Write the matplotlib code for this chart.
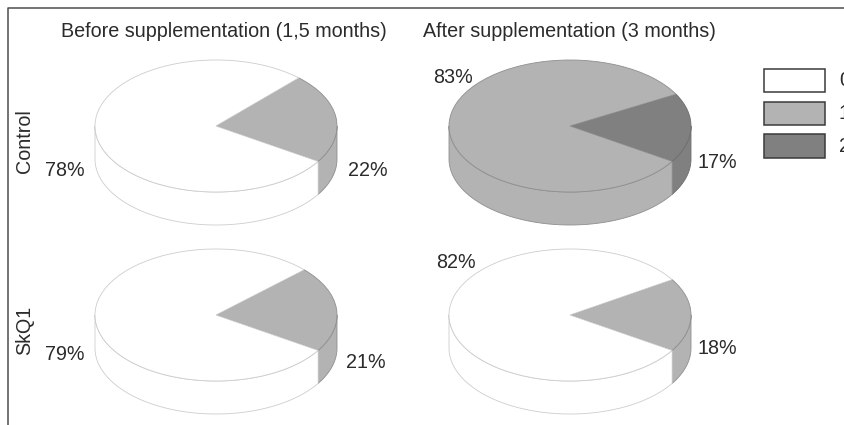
import matplotlib
matplotlib.use("Agg")
import matplotlib.pyplot as plt
import numpy as np
from matplotlib.patches import Rectangle

# ---- data ----
columns = ["Before supplementation (1,5 months)", "After supplementation (3 months)"]
rows = ["Control", "SkQ1"]
legend_labels = ["0", "1", "2"]
control_before = [22, 78]
control_after = [17, 83]
skq1_before = [21, 79]
skq1_after = [18, 82]

# ---- style / layout ----
W, H = 845, 425
plt.rcParams["font.family"] = ["Liberation Sans", "DejaVu Sans"]
WHITE, LIGHT, DARK = "#ffffff", "#b3b3b3", "#808080"
EDGE = {WHITE: "#cdcdcd", LIGHT: "#8f8f8f", DARK: "#6e6e6e"}
TXT = "#2b2b2b"
FS = 14.25
RX, RY, DEPTH = 121, 66, 33
START = -32.4

panels = [
    (control_before, [LIGHT, WHITE], 216, 126),
    (control_after, [DARK, LIGHT], 570, 126),
    (skq1_before, [LIGHT, WHITE], 216, 315),
    (skq1_after, [LIGHT, WHITE], 570, 315),
]
label_xy = [
    [(65, 170), (368, 170)],
    [(453, 77), (717, 163)],
    [(65, 355), (366, 363)],
    [(456, 262), (717, 349)],
]

fig = plt.figure(figsize=(W / 100, H / 100), dpi=100, facecolor="white")


def wall(ax, wedge, color):
    """Visible front side of a pie wedge, extruded downward."""
    d = DEPTH / RY
    for off in (0, 360, -360):
        lo, hi = max(wedge.theta1 + off, 180), min(wedge.theta2 + off, 360)
        if hi <= lo:
            continue
        t = np.radians(np.linspace(lo, hi, 120))
        xs = np.r_[np.cos(t), np.cos(t[::-1])]
        ys = np.r_[np.sin(t), np.sin(t[::-1]) - d]
        ax.fill(xs, ys, facecolor=color, edgecolor=EDGE[color], lw=0.6, zorder=1, clip_on=False)


for values, cols, cx, cy in panels:
    # axes spanning +/-1 data unit = one radius in pixels
    ax = fig.add_axes([(cx - RX) / W, 1 - (cy + RY) / H, 2 * RX / W, 2 * RY / H])
    wedges, _ = ax.pie(values, colors=cols, startangle=START, counterclock=True,
                       radius=1, wedgeprops=dict(lw=0.6))
    ax.set_aspect("auto")
    ax.set_xlim(-1, 1)
    ax.set_ylim(-1, 1)
    for w, c in zip(wedges, cols):
        w.set_edgecolor(EDGE[c])
        w.set_zorder(2)
        w.set_clip_on(False)
        wall(ax, w, c)

# overlay in pixel coordinates
ov = fig.add_axes([0, 0, 1, 1], facecolor="none")
ov.set_xlim(0, W)
ov.set_ylim(H, 0)
ov.axis("off")

ov.plot([8, 8, W], [H, 8, 8], color="#4d4d4d", lw=1.1, clip_on=False)

for x, s in zip((61, 423), columns):
    ov.text(x, 31, s, fontsize=FS, color=TXT, ha="left", va="center")
for y, s in zip((141, 330), rows):
    ov.text(25, y, s, fontsize=FS, color=TXT, rotation=90, ha="center", va="center")

for (values, _, _, _), xy in zip(panels, label_xy):
    big, small = values[1], values[0]
    for (x, y), v in zip(xy, (big, small)):
        ov.text(x, y, f"{v}%", fontsize=FS, color=TXT, ha="center", va="center")

for (y0, y1), c, s in zip([(69, 92), (102, 125), (134, 158)], (WHITE, LIGHT, DARK), legend_labels):
    ov.add_patch(Rectangle((764, y0), 61, y1 - y0, facecolor=c, edgecolor="#3a3a3a", lw=1.1))
    ov.text(839, (y0 + y1) / 2, s, fontsize=FS, color=TXT, ha="left", va="center")

fig.savefig("out.png", dpi=100)
